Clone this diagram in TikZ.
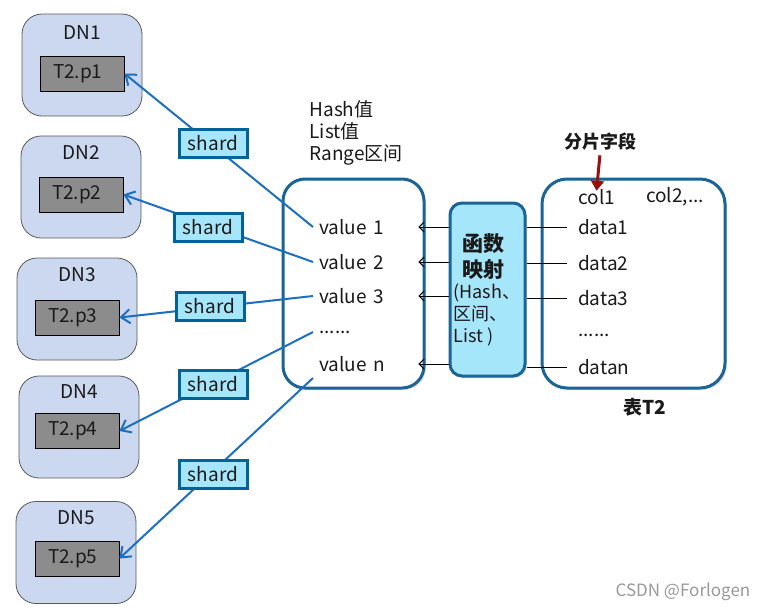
\documentclass[tikz,border=0pt]{standalone}
\usepackage{fontspec}
\setmainfont{Noto Sans CJK SC}
\usetikzlibrary{arrows.meta,shadows,calc}
\definecolor{dnfill}{HTML}{CCD8F0}
\definecolor{dnborder}{HTML}{5A5A5A}
\definecolor{pfill}{HTML}{8C8C8C}
\definecolor{cyanfill}{HTML}{A6E6FB}
\definecolor{darkblue}{HTML}{1A6496}
\definecolor{shardborder}{HTML}{00639A}
\definecolor{linkblue}{HTML}{1C6FC1}
\definecolor{darkred}{HTML}{991010}
\definecolor{txt}{HTML}{1A1A1A}
\begin{document}
\begin{tikzpicture}[x=1pt,y=-1pt,
  every node/.style={font=\fontsize{19}{22}\selectfont, text=txt},
  dnbox/.style={draw=dnborder, line width=0.8pt, fill=dnfill, rounded corners=20pt,
    minimum width=120pt, minimum height=102pt, inner sep=0pt},
  pbox/.style={draw=black, line width=0.8pt, fill=pfill, minimum height=35pt,
    text width=58pt, inner xsep=13pt, inner ysep=0pt, align=left},
  shardbox/.style={draw=shardborder, line width=3pt, fill=cyanfill, minimum width=68pt,
    minimum height=28pt, inner sep=0pt,
    drop shadow={shadow xshift=2pt, shadow yshift=-2pt, opacity=0.3}},
  bigbox/.style={draw=darkblue, line width=3pt, fill=white, rounded corners=22pt,
    minimum height=209pt, inner sep=0pt,
    drop shadow={shadow xshift=2pt, shadow yshift=-2pt, opacity=0.25}},
  fnbox/.style={draw=darkblue, line width=3pt, fill=cyanfill, rounded corners=12pt,
    minimum width=75pt, minimum height=173pt, inner sep=0pt,
    drop shadow={shadow xshift=2pt, shadow yshift=-2pt, opacity=0.25}},
  valtext/.style={anchor=west, text width=93pt, inner xsep=6pt, inner ysep=2pt, align=left},
  datatext/.style={anchor=west, inner xsep=11pt, inner ysep=2pt},
  sline/.style={draw=linkblue, line width=2pt, -{Straight Barb[length=9pt,width=14pt,line width=2pt]}},
  farr/.style={draw=black, line width=1pt, -{Straight Barb[length=5pt,width=10pt]}},
  dline/.style={draw=black, line width=1pt},
  redarr/.style={draw=darkred, line width=3pt, -{Triangle[length=10pt,width=13pt]}},
]
\useasboundingbox (0,0) rectangle (771,611);

% DN boxes
\node[dnbox] (dn1) at (82,65) {};
\node[dnbox] (dn2) at (81,187) {};
\node[dnbox] (dn3) at (77,309) {};
\node[dnbox] (dn4) at (79,427) {};
\node[dnbox] (dn5) at (76,552.5) {};
\node (dn1l) at (82,33) {DN1};
\node (dn2l) at (81,153) {DN2};
\node (dn3l) at (77,275) {DN3};
\node (dn4l) at (79,392) {DN4};
\node (dn5l) at (76,518) {DN5};
\node[pbox] (p1) at (82,73.5) {T2.p1};
\node[pbox] (p2) at (81,194.5) {T2.p2};
\node[pbox] (p3) at (77,317.5) {T2.p3};
\node[pbox] (p4) at (77,431) {T2.p4};
\node[pbox] (p5) at (77,558.5) {T2.p5};

% header text
\node[anchor=west, align=left] (hdr) at (306,133) {Hash值\\List值\\Range区间};

% value box
\node[bigbox, minimum width=141pt] (vb) at (353.5,283.5) {};
\node[valtext] (v1) at (313,227) {value 1};
\node[valtext] (v2) at (313,262) {value 2};
\node[valtext] (v3) at (313,296) {value 3};
\node[valtext] (vd) at (313,332) {......};
\node[valtext] (vn) at (313,364) {value n};
\coordinate (v5) at (313,378);

% table box
\node[bigbox, minimum width=183pt, rounded corners=25pt] (tb) at (633.5,283.5) {};
\node (col1) at (597,197) {col1};
\node (col2) at (675,197) {col2,...};
\node[datatext] (d1) at (567,227) {data1};
\node[datatext] (d2) at (567,263) {data2};
\node[datatext] (d3) at (567,298) {data3};
\node[datatext] (dd) at (567,335) {......};
\node[datatext] (dn) at (567,367) {datan};
\node[font=\bfseries\fontsize{19}{22}\selectfont] (t2) at (645,407) {表T2};
\node[font=\bfseries\fontsize{18}{22}\selectfont] (fp) at (600,142) {分片字段};
\draw[redarr, shorten <=1pt, shorten >=-5pt] (fp.south) -- (col1.north);

% function box
\node[fnbox] (fn) at (487.5,289.5) {};
\node[font=\bfseries\fontsize{21}{26}\selectfont, align=center] (fnt1) at (483,257) {函数\\映射};
\node[font=\fontsize{18}{22}\selectfont, align=left] (fnt2) at (487,315) {(Hash、\\区间、\\List )};

\draw[farr] (fn.west |- v1.east) -- (v1.east);
\draw[farr] (fn.west |- v2.east) -- (v2.east);
\draw[farr] (fn.west |- v3.east) -- (v3.east);
\draw[farr] (fn.west |- vn.east) -- (vn.east);
\draw[dline] (fn.east |- d1.west) -- (d1.west);
\draw[dline] (fn.east |- d2.west) -- (d2.west);
\draw[dline] (fn.east |- d3.west) -- (d3.west);
\draw[dline] (fn.east |- dn.west) -- (dn.west);

% shard connectors
\draw[sline] (v1.west) -- (p1.east);
\draw[sline] (v2.west) -- (p2.east);
\draw[sline] (v3.west) -- (p3.east);
\draw[sline] (vd.west) -- (p4.east);
\draw[sline] (v5) -- (p5.east);
\node[shardbox] (s1) at (213,143) {shard};
\node[shardbox] (s2) at (208,227) {shard};
\node[shardbox] (s3) at (210,306) {shard};
\node[shardbox] (s4) at (213,384) {shard};
\node[shardbox] (s5) at (213,474) {shard};

% watermark
\node[font=\fontsize{17}{20}\selectfont, text=gray!80] (wm) at (683,592) {CSDN @Forlogen};
\end{tikzpicture}
\end{document}
